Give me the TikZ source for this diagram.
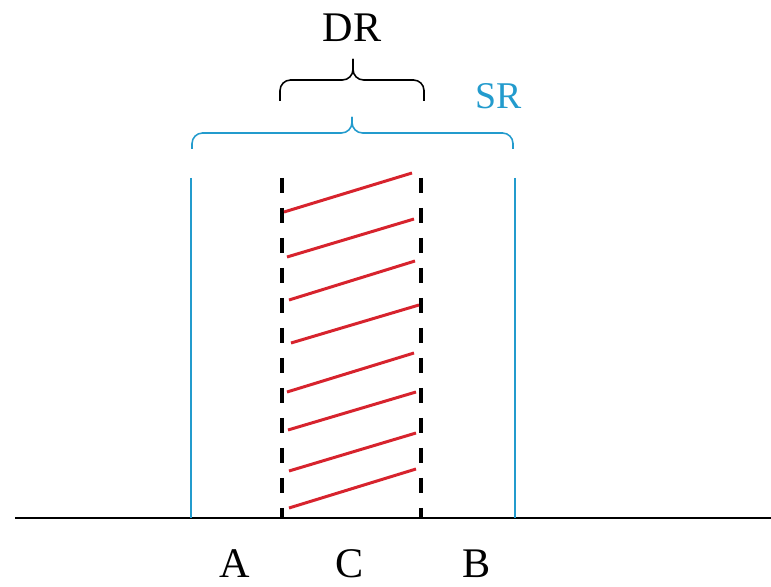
\documentclass[tikz,border=0pt]{standalone}
\usepackage{fontspec}
\setmainfont{Liberation Serif}
\definecolor{srblue}{RGB}{35,155,205}
\definecolor{hatchred}{RGB}{215,35,45}

\tikzset{
    ground/.style={line width=1.6pt},
    sredge/.style={srblue, line width=1.6pt},
    dredge/.style={line width=2pt, dash pattern=on 0.3cm off 0.3cm},
    hatch/.style={hatchred, line width=1.7pt},
    curly/.style={line width=0.9pt, rounded corners=6pt},
    lbl/.style={font=\fontsize{24}{28}\selectfont, inner sep=0pt}
}

\begin{document}
\begin{tikzpicture}[x=0.02cm, y=-0.02cm]
        \useasboundingbox (0,0) rectangle (771,587);
        % Points:
        \coordinate (gl) at (15,518);
        \coordinate (gr) at (771,518);
        \coordinate (atop) at (191,178);
        \coordinate (abot) at (191,518);
        \coordinate (btop) at (515,178);
        \coordinate (bbot) at (515,518);
        \coordinate (ltop) at (282,178);
        \coordinate (lbot) at (282,518);
        \coordinate (rtop) at (421,178);
        \coordinate (rbot) at (421,518);
        \coordinate (srl) at (192,149);
        \coordinate (srr) at (513,149);
        \coordinate (srmid) at (352,133);
        \coordinate (srtip) at (352,117);
        \coordinate (drl) at (280,101);
        \coordinate (drr) at (424,101);
        \coordinate (drmid) at (353,80);
        \coordinate (drtip) at (353,59);
        % Ground and edges:
        \draw[ground] (gl) -- (gr);
        \draw[sredge] (atop) -- (abot);
        \draw[sredge] (btop) -- (bbot);
        \draw[dredge] (ltop) -- (lbot);
        \draw[dredge] (rtop) -- (rbot);
        % Hatching:
        \draw[hatch] (284,212) -- (412,173);
        \draw[hatch] (287,257) -- (414,219);
        \draw[hatch] (289,300) -- (415,261);
        \draw[hatch] (291,343) -- (419,305);
        \draw[hatch] (287,392) -- (414,353);
        \draw[hatch] (288,430) -- (416,392);
        \draw[hatch] (289,471) -- (416,433);
        \draw[hatch] (289,508) -- (416,469);
        % Braces and labels:
        \draw[curly, srblue] (srl) |- (srmid) -- (srtip);
        \draw[curly, srblue] (srr) |- (srmid) -- (srtip);
        \draw[curly] (drl) |- (drmid) -- (drtip);
        \draw[curly] (drr) |- (drmid) -- (drtip);
        \node[lbl, srblue, font=\fontsize{21.5}{26}\selectfont] (sr) at (499,96) {SR};
        \node[lbl] (dr) at (352,28) {DR};
        \node[lbl] (a) at (235,564) {A};
        \node[lbl] (c) at (350,564) {C};
        \node[lbl] (b) at (477,564) {B};
\end{tikzpicture}
\end{document}
